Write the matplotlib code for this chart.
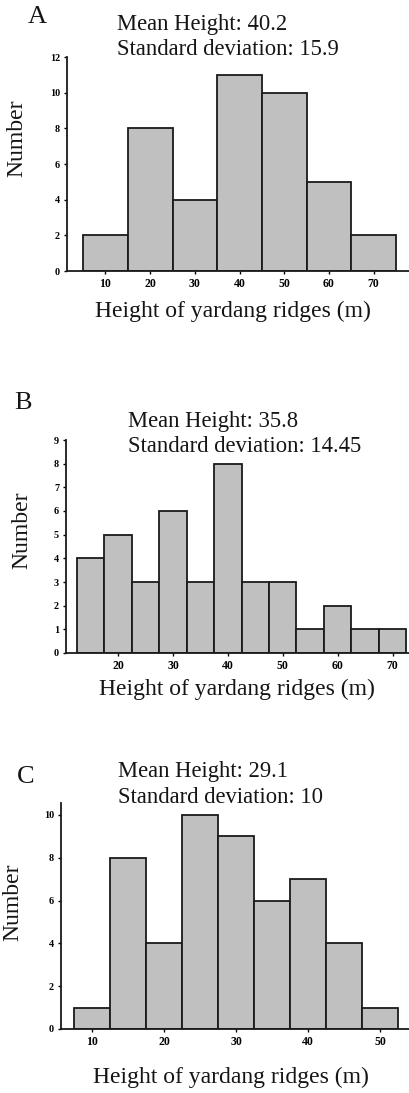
import matplotlib
matplotlib.use("Agg")
import matplotlib.pyplot as plt

# ===== data =====
edges_a = [5, 15, 25, 35, 45, 55, 65, 75]
counts_a = [2, 8, 4, 11, 10, 5, 2]
xticks_a = [10, 20, 30, 40, 50, 60, 70]
yticks_a = [0, 2, 4, 6, 8, 10, 12]

edges_b = [12.5, 17.5, 22.5, 27.5, 32.5, 37.5, 42.5, 47.5, 52.5, 57.5, 62.5, 67.5, 72.5]
counts_b = [4, 5, 3, 6, 3, 8, 3, 3, 1, 2, 1, 1]
xticks_b = [20, 30, 40, 50, 60, 70]
yticks_b = [0, 1, 2, 3, 4, 5, 6, 7, 8, 9]

edges_c = [7.5, 12.5, 17.5, 22.5, 27.5, 32.5, 37.5, 42.5, 47.5, 52.5]
counts_c = [1, 8, 4, 10, 9, 6, 7, 4, 1]
xticks_c = [10, 20, 30, 40, 50]
yticks_c = [0, 2, 4, 6, 8, 10]

panels = ["A", "B", "C"]
means = ["40.2", "35.8", "29.1"]
stds = ["15.9", "14.45", "10"]

SERIF = ["Liberation Serif", "DejaVu Serif"]
TXT = "#151515"
W, H = 409, 1093

plt.rcParams["font.family"] = SERIF

fig = plt.figure(figsize=(W / 100, H / 100), dpi=100)


def fx(px):
    return px / W


def fy(py):
    return 1 - py / H


# axes boxes in pixels: left, x-axis y, top y, xlim, ylim
boxes = [
    (67, 271, 57, (1.4, 77.9), (0, 12)),
    (66, 653, 440, (10.5, 73.0), (0, 9)),
    (61, 1029, 803, (5.7, 54.0), (0, 10.56)),
]
data = [
    (edges_a, counts_a, xticks_a, yticks_a),
    (edges_b, counts_b, xticks_b, yticks_b),
    (edges_c, counts_c, xticks_c, yticks_c),
]

# text positions (pixels)
letter_pos = [(37, 17), (23, 403), (26, 777)]
stat_pos = [(117, 30, 55), (128, 427, 452), (118, 777, 803)]
ylab_pos = [(17, 138), (22, 530), (13, 902)]
xlab_pos = [(233, 317), (237, 695), (231, 1083)]

for i in range(3):
    left, yb, yt, xlim, ylim = boxes[i]
    edges, counts, xt, yt_ticks = data[i]
    ax = fig.add_axes([fx(left), fy(yb), 1 - fx(left), (yb - yt) / H])
    widths = [edges[k + 1] - edges[k] for k in range(len(counts))]
    ax.bar(edges[:-1], counts, width=widths, align="edge",
           color="#c0c0c0", edgecolor="#1a1a1a", linewidth=1.3)
    ax.set_xlim(*xlim)
    ax.set_ylim(*ylim)
    ax.set_xticks(xt)
    ax.set_yticks(yt_ticks)
    for s in ["top", "right"]:
        ax.spines[s].set_visible(False)
    for s in ["left", "bottom"]:
        ax.spines[s].set_linewidth(1.3)
        ax.spines[s].set_color("#1a1a1a")
    ax.tick_params(axis="x", length=2.5, width=1, pad=2.5, labelsize=8.5)
    ax.tick_params(axis="y", length=2.5, width=1, pad=2.5, labelsize=7.3)
    for lab in ax.get_xticklabels() + ax.get_yticklabels():
        lab.set_fontweight("bold")

    lx, ly = letter_pos[i]
    fig.text(fx(lx), fy(ly), panels[i], fontsize=19, ha="center", va="center", color=TXT)
    sx, s1, s2 = stat_pos[i]
    fig.text(fx(sx), fy(s1), "Mean Height: " + means[i], fontsize=16.3,
             ha="left", va="baseline", color=TXT)
    fig.text(fx(sx), fy(s2), "Standard deviation: " + stds[i], fontsize=16.3,
             ha="left", va="baseline", color=TXT)
    nx, ny = ylab_pos[i]
    fig.text(fx(nx), fy(ny), "Number", fontsize=17, rotation=90,
             ha="center", va="center", color=TXT)
    hx, hy = xlab_pos[i]
    fig.text(fx(hx), fy(hy), "Height of yardang ridges (m)", fontsize=17,
             ha="center", va="baseline", color=TXT)

fig.savefig("out.png", dpi=100)
plt.close(fig)
